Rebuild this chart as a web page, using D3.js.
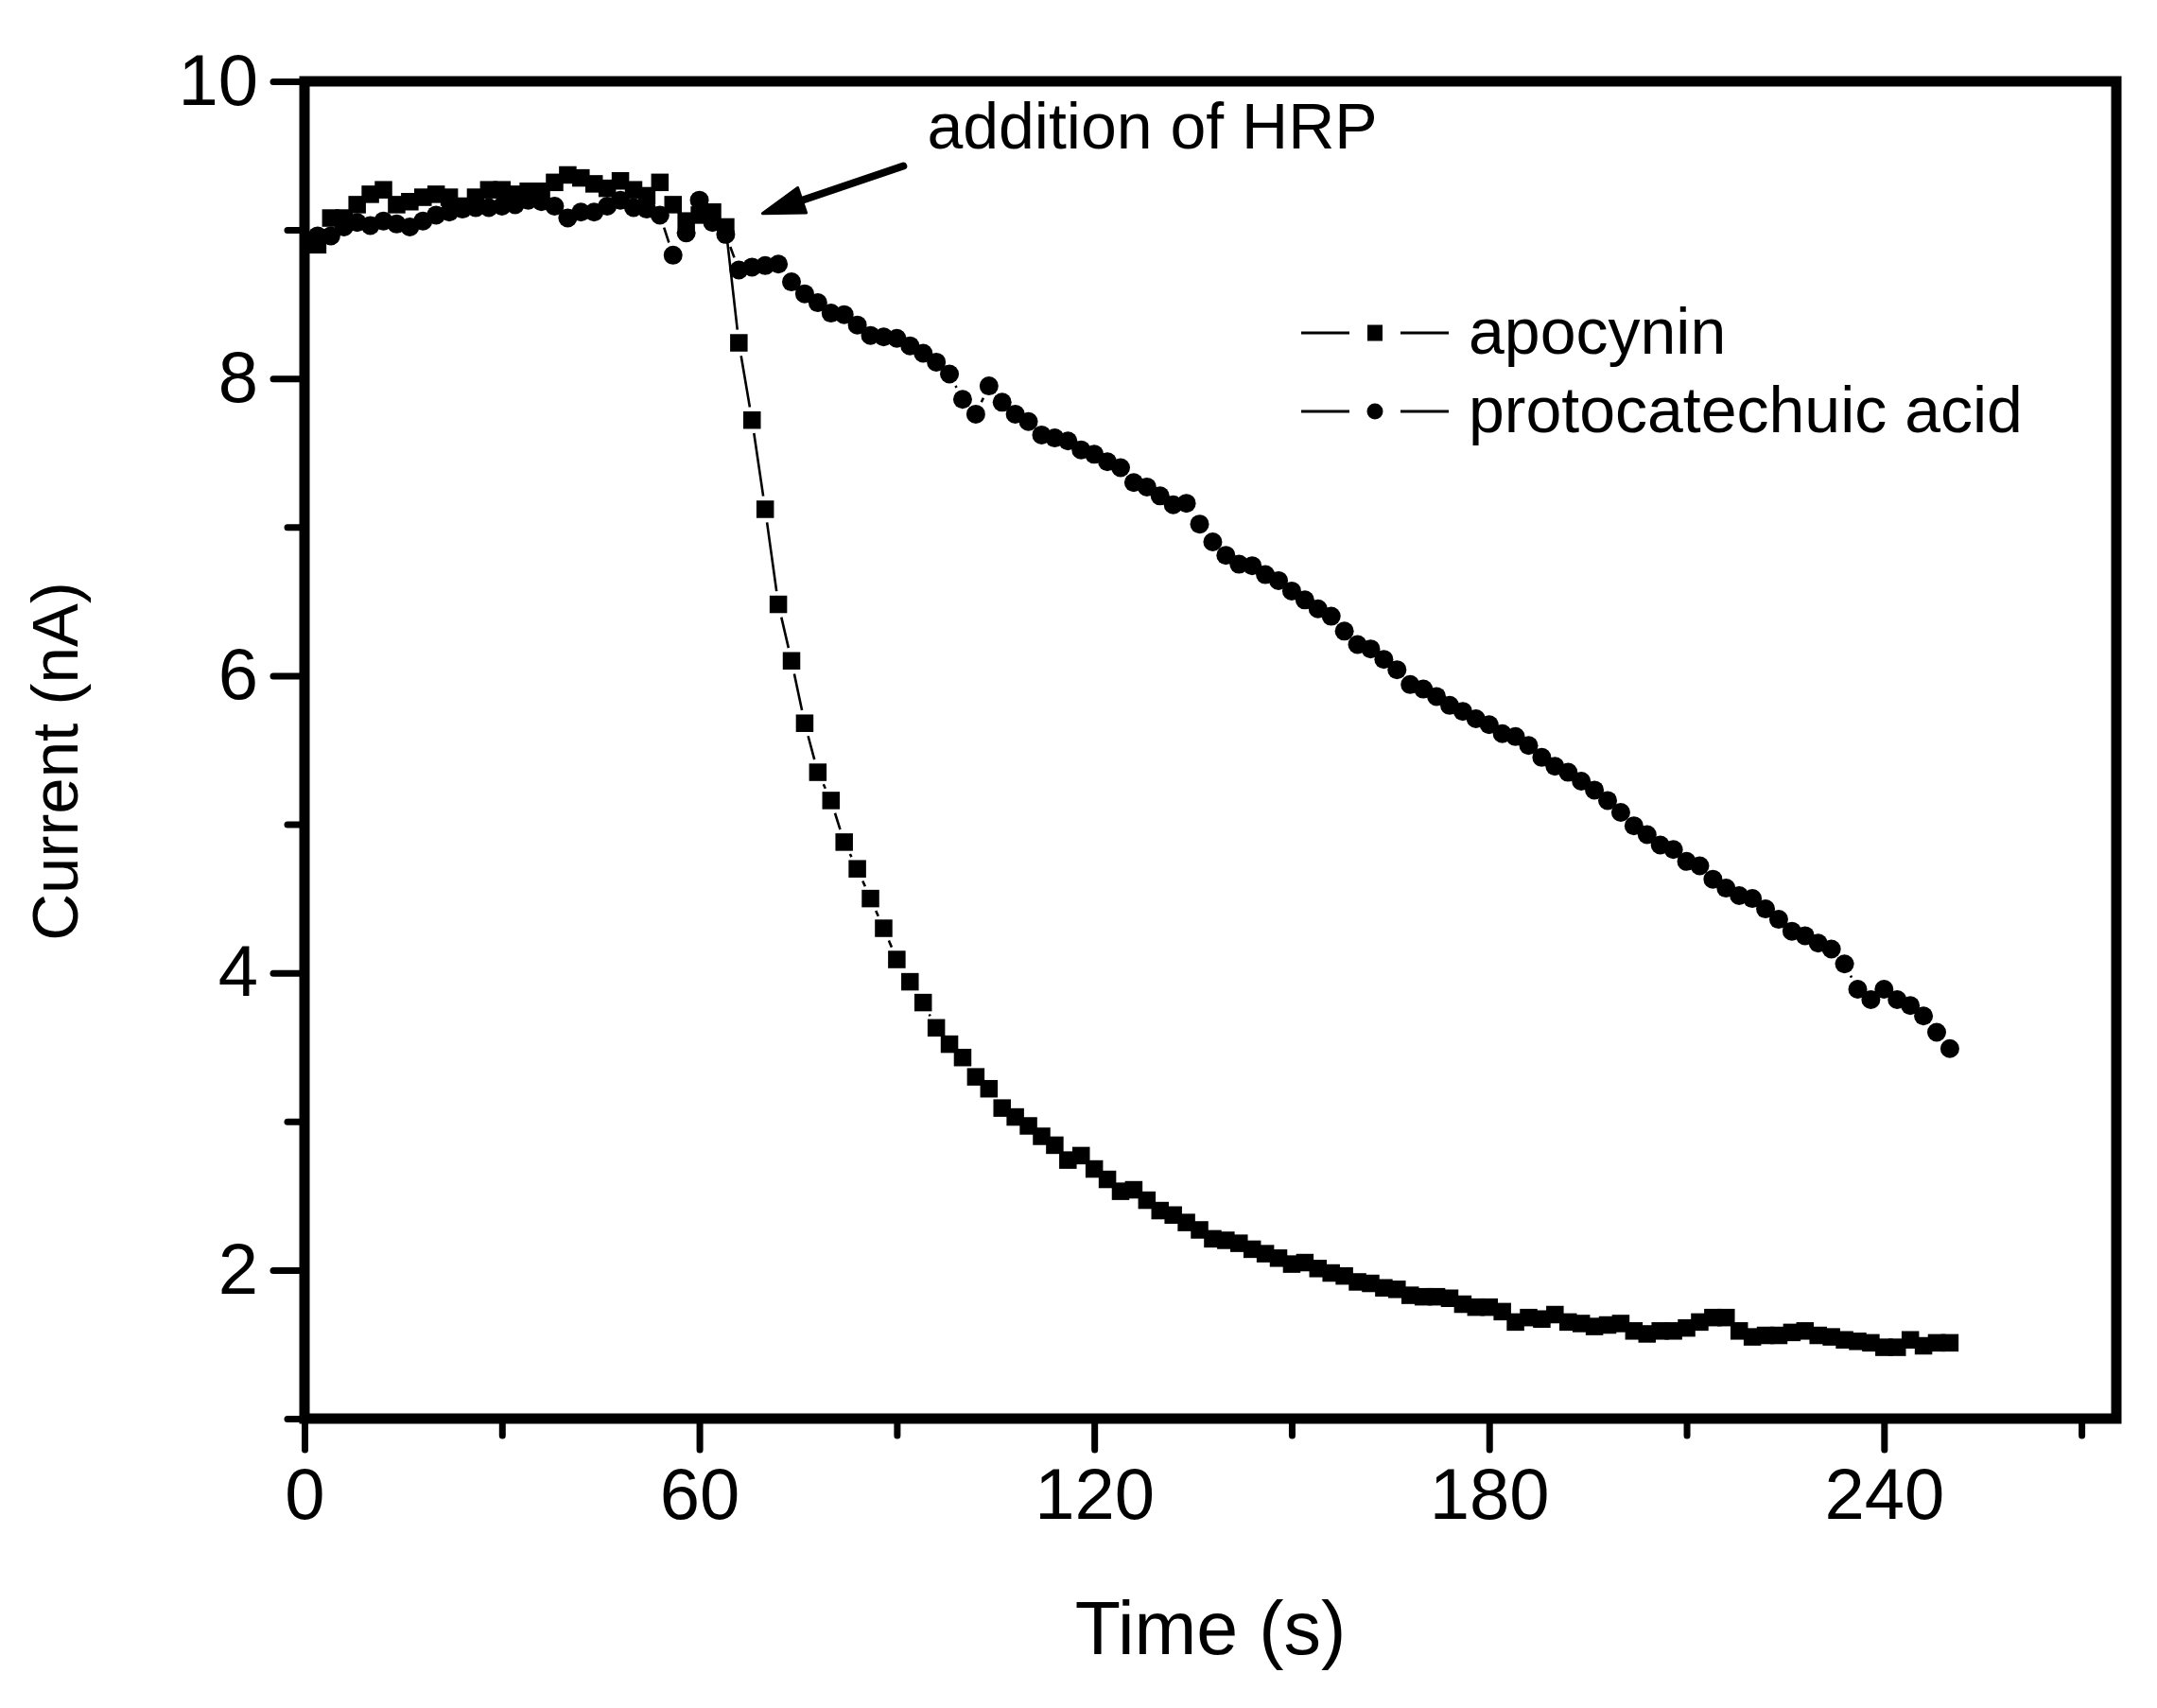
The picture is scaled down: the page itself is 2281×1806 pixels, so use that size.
<!DOCTYPE html>
<html>
<head>
<meta charset="utf-8">
<script src="https://cdn.jsdelivr.net/npm/d3@7"></script>
<style>
  html, body { margin: 0; padding: 0; background: #fff; }
  svg { display: block; }
  text { font-family: "Liberation Sans", Arial, sans-serif; fill: #000; }
</style>
</head>
<body>
<svg id="chart" width="2281" height="1806"></svg>
<script>
// ---------------- data ----------------
const time = [0,2,4,6,8,10,12,14,16,18,20,22,24,26,28,30,32,34,36,38,40,42,44,46,48,50,52,54,56,58,60,62,64,66,68,70,72,74,76,78,80,82,84,86,88,90,92,94,96,98,100,102,104,106,108,110,112,114,116,118,120,122,124,126,128,130,132,134,136,138,140,142,144,146,148,150,152,154,156,158,160,162,164,166,168,170,172,174,176,178,180,182,184,186,188,190,192,194,196,198,200,202,204,206,208,210,212,214,216,218,220,222,224,226,228,230,232,234,236,238,240,242,244,246,248,250];

const apocynin = [8.92,8.90,9.08,9.08,9.17,9.24,9.27,9.17,9.19,9.22,
  9.24,9.22,9.16,9.22,9.27,9.27,9.24,9.26,9.26,9.32,
  9.37,9.35,9.31,9.28,9.33,9.27,9.23,9.32,9.17,9.06,
  9.10,9.12,9.02,
  8.24,7.72,7.12,6.48,6.10,5.68,5.35,5.16,4.88,4.70,4.50,4.30,4.09,3.94,3.80,3.63,
  3.52,3.43,3.30,3.22,3.09,3.03,2.97,2.90,2.84,2.74,2.77,2.68,2.61,2.53,2.54,2.47,2.40,2.37,2.32,2.27,
  2.21,2.20,2.18,2.14,2.11,2.08,2.04,2.05,2.01,1.98,1.96,1.92,1.91,1.88,1.87,1.83,1.82,1.82,1.81,1.77,1.75,1.75,
  1.72,1.65,1.68,1.67,1.70,1.65,1.64,1.62,1.63,1.64,1.59,1.57,1.59,1.59,1.61,1.65,1.68,1.68,1.59,1.55,
  1.56,1.56,1.58,1.59,1.56,1.55,1.53,1.52,1.51,1.48,1.48,1.53,1.49,1.51,1.51];

const protocatechuic = [8.93,8.96,8.96,9.02,9.05,9.03,9.06,9.04,9.02,9.06,
  9.10,9.12,9.14,9.15,9.15,9.16,9.17,9.20,9.19,9.16,
  9.08,9.12,9.12,9.16,9.20,9.15,9.14,9.10,8.83,8.98,
  9.20,9.05,8.97,
  8.73,8.75,8.76,8.77,8.65,8.57,8.51,8.44,8.43,8.36,8.29,8.28,8.27,8.22,8.17,8.11,8.03,7.86,7.76,7.95,
  7.84,7.76,7.71,7.62,7.60,7.58,7.52,7.49,7.44,7.40,7.30,7.27,7.21,7.15,7.16,7.02,6.90,6.81,6.75,6.74,
  6.68,6.64,6.57,
  6.51,6.45,6.40,6.30,6.21,6.18,6.11,6.04,5.94,5.91,5.86,5.80,5.76,5.71,5.67,5.61,5.59,5.53,5.45,5.39,
  5.35,5.29,5.23,5.16,5.08,4.99,4.93,4.86,4.83,4.75,4.72,4.63,4.57,4.52,4.50,4.43,4.36,4.28,4.25,4.20,
  4.16,4.06,3.89,3.82,3.89,3.82,3.78,3.71,3.60,3.49];

const seriesNames = ["apocynin", "protocatechuic acid"];
const xMajorTicks = [0, 60, 120, 180, 240];
const xMinorTicks = [30, 90, 150, 210, 270];
const yMajorTicks = [2, 4, 6, 8, 10];
const yMinorTicks = [1, 3, 5, 7, 9];
const xTitle = "Time (s)";
const yTitle = "Current (nA)";
const annotationText = "addition of HRP";
// annotation anchor points in data units: text start, arrow tail, arrow tip
const annotationText_at = [94.6, 9.55];
const arrowTail = [91.0, 9.43];
const arrowTip = [69.6, 9.11];

// ---------------- layout ----------------
const svg = d3.select("#chart");
const L = 322, R = 2238, T = 86, B = 1500;
const x = d3.scaleLinear().domain([0, 275.3]).range([L, R]);
const y = d3.scaleLinear().domain([1, 10]).range([B, T]);

svg.append("rect").attr("width", 2281).attr("height", 1806).attr("fill", "#fff");

svg.append("defs").append("clipPath").attr("id", "plotclip")
  .append("rect").attr("x", L).attr("y", T).attr("width", R - L).attr("height", B - T);

// ---------------- axes ----------------
const tickFont = 76;
const xAxisG = svg.append("g").attr("transform", `translate(0,${B})`)
  .call(d3.axisBottom(x).tickValues(xMajorTicks).tickSize(33).tickPadding(19).tickFormat(d3.format("d")));
const xMinorG = svg.append("g").attr("transform", `translate(0,${B})`)
  .call(d3.axisBottom(x).tickValues(xMinorTicks).tickSize(18).tickFormat(""));
const yAxisG = svg.append("g").attr("transform", `translate(${L},0)`)
  .call(d3.axisLeft(y).tickValues(yMajorTicks).tickSize(33).tickPadding(16).tickFormat(d3.format("d")));
const yMinorG = svg.append("g").attr("transform", `translate(${L},0)`)
  .call(d3.axisLeft(y).tickValues(yMinorTicks).tickSize(18).tickFormat(""));

[xAxisG, xMinorG, yAxisG, yMinorG].forEach(g => {
  g.select(".domain").remove();
  g.selectAll(".tick line").attr("stroke", "#000").attr("stroke-width", 7).attr("stroke-linecap", "round");
  g.selectAll(".tick text").attr("font-size", tickFont).attr("fill", "#000")
    .attr("font-family", "Liberation Sans, Arial, sans-serif");
});

// frame
svg.append("rect").attr("x", L).attr("y", T).attr("width", R - L).attr("height", B - T)
  .attr("fill", "none").attr("stroke", "#000").attr("stroke-width", 11);

// axis titles
svg.append("text").attr("x", (L + R) / 2).attr("y", 1749).attr("text-anchor", "middle")
  .attr("font-size", 79).text(xTitle);
svg.append("text").attr("transform", `translate(82,${(T + B) / 2 + 12}) rotate(-90)`)
  .attr("text-anchor", "middle").attr("font-size", 69).text(yTitle);

// ---------------- data drawing ----------------
const plot = svg.append("g").attr("clip-path", "url(#plotclip)");

function gapSegments(vals, gap) {
  const pts = time.map((t, i) => [x(t), y(vals[i])]);
  let d = "";
  for (let i = 0; i < pts.length - 1; i++) {
    const [x0, y0] = pts[i], [x1, y1] = pts[i + 1];
    const dx = x1 - x0, dy = y1 - y0, len = Math.hypot(dx, dy);
    if (len <= 2 * gap + 1) continue;
    const ux = dx / len, uy = dy / len;
    d += `M${x0 + ux * gap},${y0 + uy * gap}L${x1 - ux * gap},${y1 - uy * gap}`;
  }
  return d;
}

const series = [
  { name: seriesNames[0], vals: apocynin, shape: "square" },
  { name: seriesNames[1], vals: protocatechuic, shape: "circle" }
];

series.forEach(s => {
  plot.append("path").attr("d", gapSegments(s.vals, 14))
    .attr("fill", "none").attr("stroke", "#000").attr("stroke-width", 2.6);
});

const sq = 18.5, cr = 10;
series.forEach(s => {
  const g = plot.append("g");
  if (s.shape === "square") {
    g.selectAll("rect").data(time).join("rect")
      .attr("x", (t) => x(t) - sq / 2)
      .attr("y", (t, i) => y(s.vals[i]) - sq / 2)
      .attr("width", sq).attr("height", sq).attr("fill", "#000");
  } else {
    g.selectAll("circle").data(time).join("circle")
      .attr("cx", (t) => x(t))
      .attr("cy", (t, i) => y(s.vals[i]))
      .attr("r", cr).attr("fill", "#000");
  }
});

// ---------------- legend ----------------
const legendRows = [352, 435];
const legCx = 1454;
series.forEach((s, i) => {
  const ly = legendRows[i];
  const g = svg.append("g");
  g.append("line").attr("x1", legCx - 78).attr("x2", legCx - 27).attr("y1", ly).attr("y2", ly)
    .attr("stroke", "#000").attr("stroke-width", 3);
  g.append("line").attr("x1", legCx + 27).attr("x2", legCx + 78).attr("y1", ly).attr("y2", ly)
    .attr("stroke", "#000").attr("stroke-width", 3);
  if (s.shape === "square") {
    g.append("rect").attr("x", legCx - 8).attr("y", ly - 8.5).attr("width", 16).attr("height", 17).attr("fill", "#000");
  } else {
    g.append("circle").attr("cx", legCx).attr("cy", ly).attr("r", 8.5).attr("fill", "#000");
  }
  g.append("text").attr("x", 1553).attr("y", ly + 22).attr("font-size", 68).text(s.name);
});

// ---------------- annotation ----------------
svg.append("text").attr("x", x(annotationText_at[0])).attr("y", y(annotationText_at[1]))
  .attr("font-size", 68).text(annotationText);

const tx = x(arrowTip[0]), ty = y(arrowTip[1]);
const sx = x(arrowTail[0]), sy = y(arrowTail[1]);
const adx = tx - sx, ady = ty - sy, alen = Math.hypot(adx, ady);
const ux = adx / alen, uy = ady / alen;
const headLen = 44, headHalf = 14;
const bx = tx - ux * headLen, by = ty - uy * headLen;
svg.append("line").attr("x1", sx).attr("y1", sy).attr("x2", bx + ux * 6).attr("y2", by + uy * 6)
  .attr("stroke", "#000").attr("stroke-width", 8).attr("stroke-linecap", "round");
svg.append("path")
  .attr("d", `M${tx},${ty}L${bx - uy * headHalf},${by + ux * headHalf}L${bx + uy * headHalf},${by - ux * headHalf}Z`)
  .attr("fill", "#000").attr("stroke", "#000").attr("stroke-width", 3).attr("stroke-linejoin", "round");
</script>
</body>
</html>
